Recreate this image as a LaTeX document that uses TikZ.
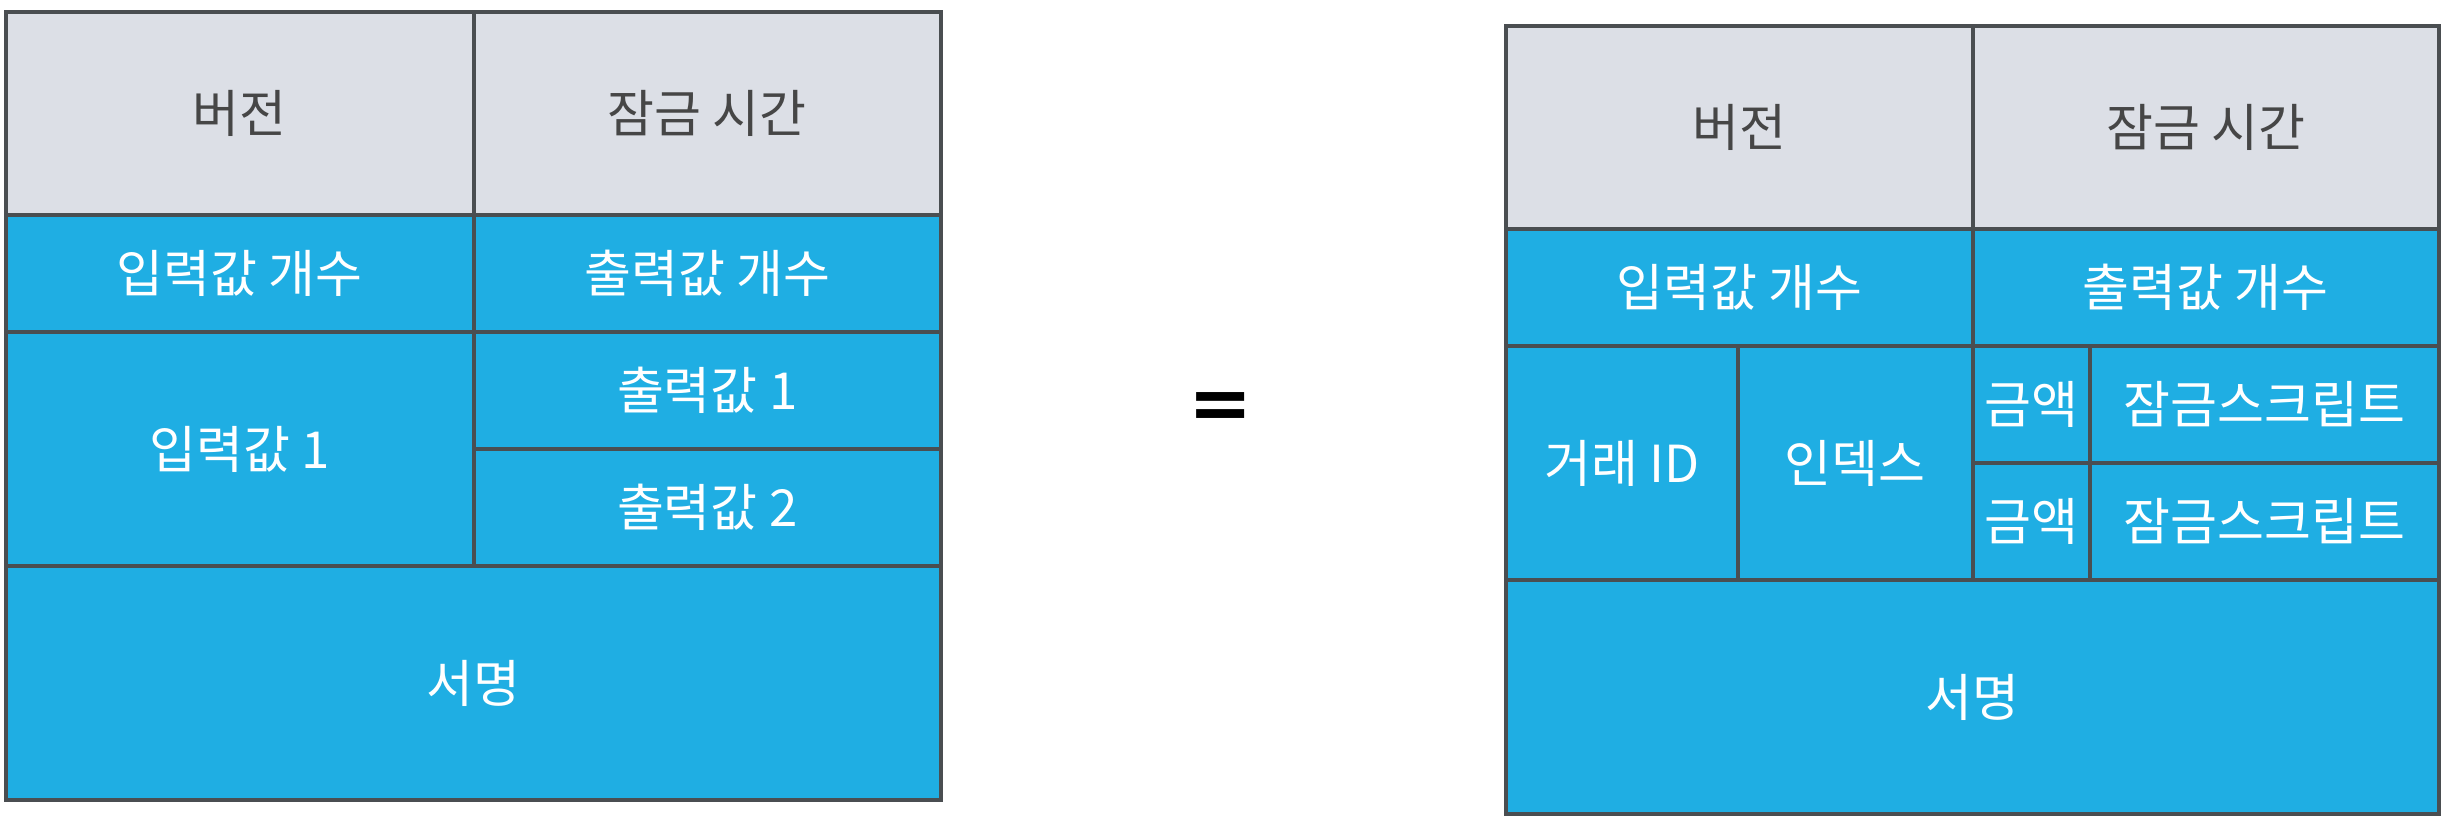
\documentclass[tikz,border=0pt]{standalone}
\usepackage{fontspec}
\setmainfont{Noto Sans CJK KR}
\newfontfamily\eqfont{DejaVu Sans}
\definecolor{hdrgray}{RGB}{220,223,230}
\definecolor{fldblue}{RGB}{31,174,227}
\definecolor{rulegray}{RGB}{74,78,81}
\definecolor{txtgray}{RGB}{70,70,70}
\begin{document}
\begin{tikzpicture}[x=0.3pt, y=-0.3pt,
    hdr/.style={fill=hdrgray},
    fld/.style={fill=fldblue},
    rule/.style={draw=rulegray, line width=1.2pt},
    htxt/.style={text=txtgray, inner sep=0pt, font=\fontsize{15.3}{18}\selectfont},
    ftxt/.style={text=white, inner sep=0pt, font=\fontsize{15.3}{18}\selectfont}]
    \useasboundingbox (0, 0) rectangle (2458, 828);

    % left: transaction
        \path[hdr] (6, 12) rectangle (941, 215);
        \path[fld] (6, 215) rectangle (941, 800);
        \draw[rule] (473.5, 12) to (473.5, 566);
        \foreach \y in {215, 332, 566} {
            \draw[rule] (6, \y) to (941, \y);
        }
        \draw[rule] (473.5, 449) to (941, 449);
        \draw[rule] (6, 12) rectangle (941, 800);

        \node[htxt] (lver) at (239.75, 113.5) {버전};
        \node[htxt] (llock) at (707.25, 113.5) {잠금 시간};
        \node[ftxt] (lnin) at (239.75, 273.5) {입력값 개수};
        \node[ftxt] (lnout) at (707.25, 273.5) {출력값 개수};
        \node[ftxt] (lin) at (239.75, 449) {입력값 1};
        \node[ftxt] (lout1) at (707.25, 390.5) {출력값 1};
        \node[ftxt] (lout2) at (707.25, 507.5) {출력값 2};
        \node[ftxt] (lsig) at (473.5, 683) {서명};

        \node[inner sep=0pt, font=\eqfont\bfseries\fontsize{23}{27}\selectfont] (eq) at (1221, 411.5) {=};

    % right: expanded fields
        \path[hdr] (1506, 26) rectangle (2439, 229);
        \path[fld] (1506, 229) rectangle (2439, 814);
        \draw[rule] (1972.5, 26) to (1972.5, 580);
        \foreach \x in {1737.5, 2090} {
            \draw[rule] (\x, 346) to (\x, 580);
        }
        \foreach \y in {229, 346, 580} {
            \draw[rule] (1506, \y) to (2439, \y);
        }
        \draw[rule] (1972.5, 463) to (2439, 463);
        \draw[rule] (1506, 26) rectangle (2439, 814);

        \node[htxt] (rver) at (1739.25, 127.5) {버전};
        \node[htxt] (rlock) at (2205.75, 127.5) {잠금 시간};
        \node[ftxt] (rnin) at (1739.25, 287.5) {입력값 개수};
        \node[ftxt] (rnout) at (2205.75, 287.5) {출력값 개수};
        \node[ftxt] (rtxid) at (1621.75, 463) {거래 ID};
        \node[ftxt] (ridx) at (1855, 463) {인덱스};
        \node[ftxt] (ramt1) at (2031.25, 404.5) {금액};
        \node[ftxt] (ramt2) at (2031.25, 521.5) {금액};
        \node[ftxt] (rscr1) at (2264.5, 404.5) {잠금스크립트};
        \node[ftxt] (rscr2) at (2264.5, 521.5) {잠금스크립트};
        \node[ftxt] (rsig) at (1972.5, 697) {서명};
    \end{tikzpicture}
\end{document}
